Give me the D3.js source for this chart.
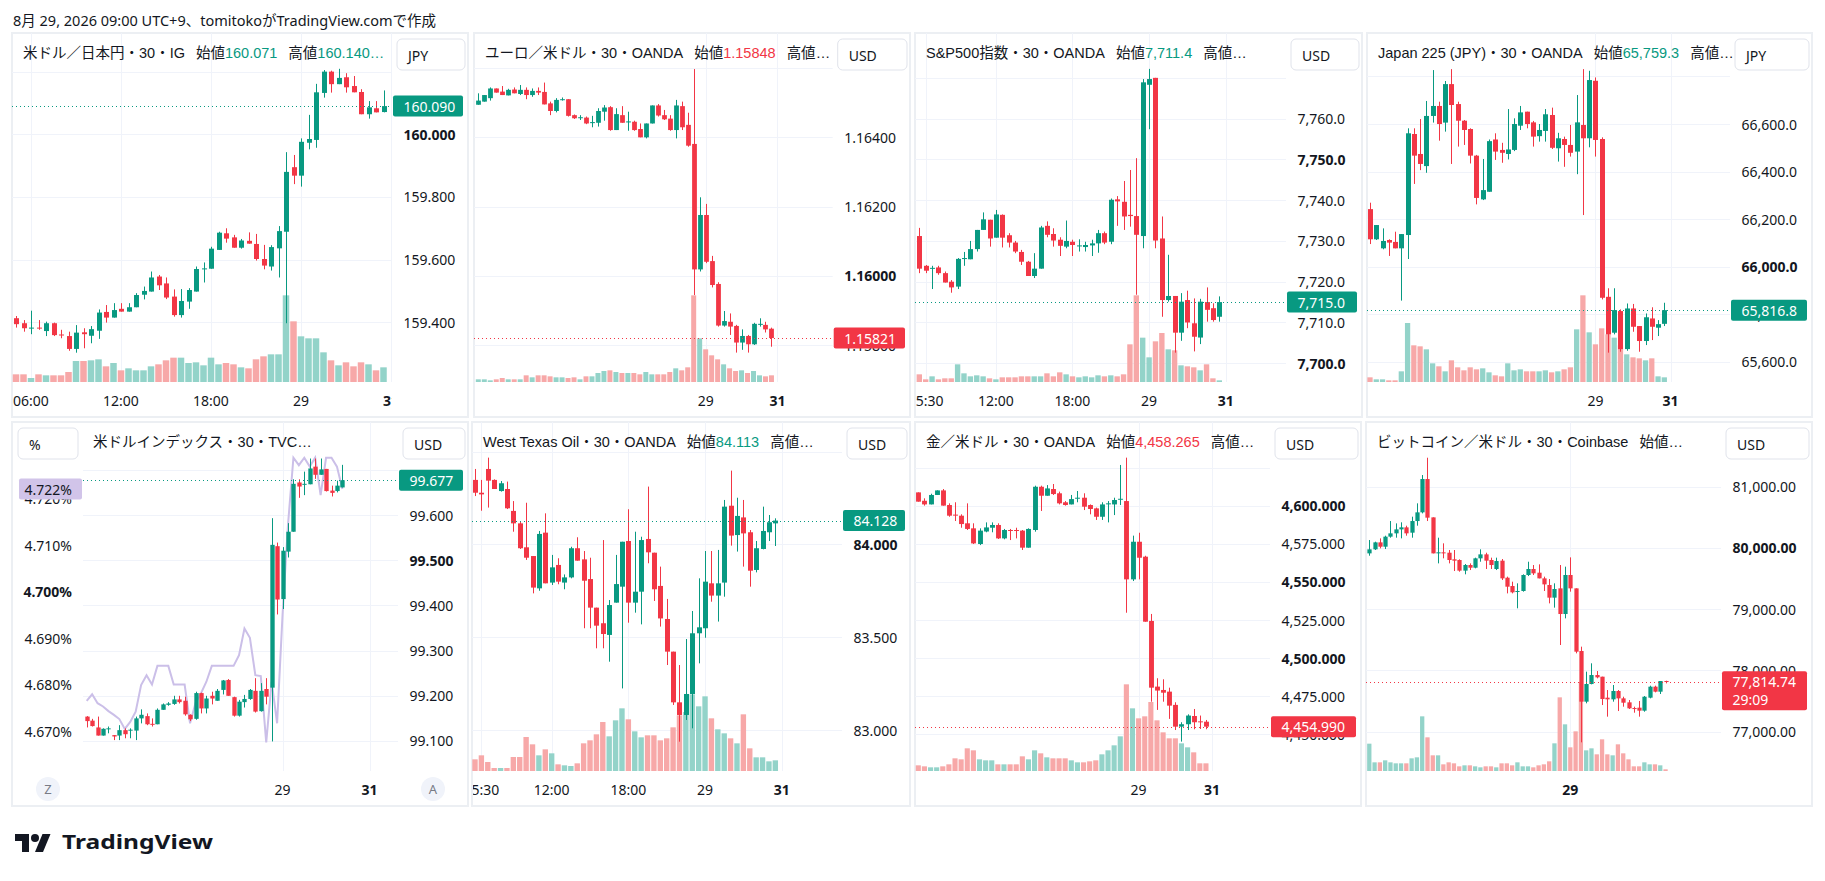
<!DOCTYPE html>
<html>
<head>
<meta charset="utf-8">
<script src="https://cdn.jsdelivr.net/npm/d3@7"></script>
<style>
  body { margin: 0; background: #fff; }
  svg { display: block; font-family: "Noto Sans", "Noto Sans CJK JP", sans-serif; }
  .legend { font-family: "Liberation Sans", "Noto Sans CJK JP", sans-serif; }
</style>
</head>
<body>
<svg id="chart" width="1825" height="881"></svg>
<script>
// -----------------------------
//  DATA  (30-minute bars: open, high, low, close)
// -----------------------------
const usdjpyOHLC = [
  [159.413,159.420,159.383,159.394],[159.397,159.407,159.370,159.381],[159.380,159.437,159.362,159.383],[159.383,159.407,159.376,159.381],
  [159.372,159.402,159.356,159.397],[159.397,159.399,159.356,159.359],[159.361,159.376,159.349,159.359],[159.356,159.370,159.309,159.315],
  [159.315,159.391,159.303,159.367],[159.368,159.381,159.317,159.362],[159.357,159.388,159.333,159.378],[159.373,159.441,159.347,159.431],
  [159.433,159.455,159.399,159.415],[159.415,159.461,159.415,159.439],[159.443,159.461,159.434,159.434],[159.434,159.461,159.434,159.448],
  [159.448,159.493,159.448,159.487],[159.488,159.514,159.473,159.500],[159.498,159.562,159.498,159.543],[159.546,159.551,159.503,159.518],
  [159.524,159.543,159.474,159.479],[159.482,159.505,159.418,159.423],[159.423,159.506,159.415,159.468],[159.466,159.509,159.443,159.503],
  [159.498,159.578,159.498,159.570],[159.569,159.591,159.527,159.572],[159.571,159.641,159.571,159.635],[159.631,159.689,159.631,159.686],
  [159.684,159.700,159.654,159.667],[159.671,159.679,159.638,159.638],[159.638,159.666,159.635,159.661],[159.660,159.687,159.651,159.651],
  [159.650,159.682,159.597,159.602],[159.602,159.647,159.569,159.581],[159.578,159.646,159.565,159.640],[159.636,159.707,159.543,159.691],
  [159.689,159.943,159.397,159.880],[159.895,159.934,159.841,159.868],[159.868,159.987,159.833,159.976],[159.973,160.062,159.952,159.985],
  [159.982,160.161,159.957,160.134],[160.132,160.205,160.117,160.200],[160.200,160.203,160.133,160.160],[160.160,160.209,160.160,160.180],
  [160.182,160.195,160.133,160.150],[160.154,160.186,160.134,160.134],[160.135,160.144,160.064,160.064],[160.064,160.106,160.050,160.086],
  [160.083,160.106,160.070,160.070],[160.071,160.140,160.070,160.090]
];
const usdjpyVol = [23,23,12,23,20,20,20,30,63,63,65,68,47,57,35,41,35,35,47,53,65,73,73,57,59,50,73,53,57,53,44,41,68,77,83,83,260,182,137,131,131,89,65,50,59,47,59,53,35,44];
const usdjpyTimes = [[2,"06:00"],[14,"12:00"],[26,"18:00"],[38,"29"],[50,"31"]];
const usdjpyTicks = [159.4,159.6,159.8,160.0,160.2];

const eurusdOHLC = [
  [1.16494,1.16527,1.16494,1.16506],[1.16503,1.16522,1.16503,1.16522],[1.16513,1.16544,1.16506,1.16541],[1.16541,1.16541,1.16529,1.16529],
  [1.16532,1.16548,1.16522,1.16522],[1.16521,1.16540,1.16521,1.16537],[1.16538,1.16544,1.16527,1.16527],[1.16525,1.16551,1.16522,1.16537],
  [1.16537,1.16544,1.16510,1.16522],[1.16522,1.16541,1.16517,1.16534],[1.16534,1.16544,1.16522,1.16529],[1.16531,1.16558,1.16495,1.16495],
  [1.16498,1.16503,1.16464,1.16476],[1.16476,1.16513,1.16472,1.16508],[1.16508,1.16515,1.16506,1.16510],[1.16510,1.16510,1.16460,1.16462],
  [1.16464,1.16466,1.16453,1.16455],[1.16456,1.16464,1.16450,1.16458],[1.16457,1.16460,1.16438,1.16440],[1.16441,1.16462,1.16429,1.16444],
  [1.16442,1.16484,1.16431,1.16476],[1.16474,1.16493,1.16448,1.16486],[1.16487,1.16490,1.16419,1.16421],[1.16421,1.16484,1.16421,1.16467],
  [1.16464,1.16490,1.16442,1.16442],[1.16443,1.16474,1.16419,1.16446],[1.16445,1.16448,1.16419,1.16421],[1.16424,1.16440,1.16400,1.16400],
  [1.16400,1.16440,1.16397,1.16440],[1.16440,1.16492,1.16440,1.16492],[1.16492,1.16496,1.16460,1.16463],[1.16464,1.16479,1.16450,1.16452],
  [1.16454,1.16464,1.16419,1.16421],[1.16421,1.16508,1.16397,1.16492],[1.16490,1.16503,1.16421,1.16429],[1.16436,1.16471,1.16373,1.16376],
  [1.16381,1.16597,1.15945,1.16019],[1.16019,1.16227,1.16013,1.16176],[1.16176,1.16208,1.16037,1.16041],[1.16043,1.16058,1.15967,1.15974],
  [1.15977,1.15982,1.15854,1.15857],[1.15857,1.15899,1.15854,1.15870],[1.15868,1.15892,1.15830,1.15854],[1.15856,1.15859,1.15779,1.15808],
  [1.15808,1.15846,1.15787,1.15827],[1.15827,1.15830,1.15779,1.15803],[1.15803,1.15865,1.15801,1.15862],[1.15860,1.15878,1.15854,1.15862],
  [1.15859,1.15868,1.15837,1.15846],[1.15848,1.15851,1.15796,1.15821]
];
const eurusdVol = [8,8,5,8,12,8,8,8,20,14,20,20,17,14,14,12,14,8,17,17,27,33,35,30,27,27,27,23,30,23,23,23,30,41,35,44,260,131,98,80,68,53,41,33,35,27,33,20,17,20];
const eurusdTimes = [[38,"29"],[50,"31"]];
const eurusdTicks = [1.158,1.160,1.162,1.164,1.166];

const spxOHLC = [
  [7731.2,7733.2,7722.1,7723.2],[7723.9,7724.1,7722.1,7722.7],[7723.2,7723.9,7718.2,7723.4],[7723.5,7723.9,7721.7,7722.1],
  [7722.1,7722.5,7719.8,7719.8],[7720.0,7720.4,7717.3,7718.6],[7718.8,7725.8,7718.2,7725.6],[7725.6,7727.3,7723.9,7725.8],
  [7725.5,7730.0,7725.5,7728.0],[7728.0,7732.7,7727.4,7732.7],[7732.7,7737.0,7732.7,7735.3],[7735.2,7735.2,7728.6,7730.6],
  [7730.8,7737.6,7730.8,7736.5],[7736.4,7736.5,7728.4,7730.8],[7731.4,7731.9,7728.4,7729.6],[7729.6,7730.0,7727.0,7727.4],
  [7727.3,7727.8,7724.1,7724.9],[7724.9,7725.1,7721.4,7721.4],[7721.4,7727.0,7720.9,7723.2],[7723.2,7733.7,7723.2,7733.3],
  [7733.7,7734.8,7730.9,7731.5],[7731.7,7733.1,7728.6,7730.1],[7730.3,7730.9,7726.3,7728.8],[7728.6,7735.0,7728.2,7730.0],
  [7729.8,7730.3,7726.3,7729.0],[7728.7,7730.4,7727.4,7728.9],[7728.5,7729.8,7727.4,7729.0],[7728.9,7730.3,7726.3,7729.4],
  [7729.4,7732.7,7727.1,7731.9],[7731.9,7732.3,7729.2,7729.6],[7729.8,7740.4,7729.2,7740.1],[7740.2,7741.0,7733.7,7739.7],
  [7739.6,7744.7,7732.7,7736.0],[7736.4,7747.4,7733.5,7736.1],[7736.1,7750.3,7716.8,7731.5],[7731.2,7769.7,7728.2,7768.9],
  [7768.3,7772.2,7757.4,7769.7],[7770.0,7770.0,7728.2,7730.1],[7730.6,7736.0,7711.4,7715.5],[7715.5,7726.6,7715.1,7716.5],
  [7716.5,7716.5,7702.6,7707.5],[7707.5,7717.2,7705.5,7715.1],[7715.5,7717.8,7708.6,7710.0],[7709.8,7715.9,7702.9,7706.5],
  [7706.3,7715.8,7704.7,7715.1],[7715.0,7718.6,7710.2,7713.1],[7713.5,7714.7,7710.2,7710.6],[7711.4,7716.4,7710.2,7715.0]
];
const spxVol = [23,8,17,8,11,11,53,26,17,20,17,11,8,14,14,14,17,17,17,17,26,17,29,23,17,14,17,14,20,17,20,17,23,113,260,133,74,122,147,98,95,50,47,44,35,53,11,5];
const spxTimes = [[1,"05:30"],[12,"12:00"],[24,"18:00"],[36,"29"],[48,"31"]];
const spxTicks = [7700,7710,7720,7730,7740,7750,7760,7770];

const n225OHLC = [
  [66242,66269,66095,66115],[66115,66175,66112,66175],[66077,66161,66073,66108],[66112,66115,66045,66101],
  [66104,66147,66077,66077],[66077,66137,65857,66137],[66133,66582,66032,66561],[66558,66582,66348,66467],
  [66474,66621,66406,66432],[66423,66697,66395,66634],[66634,66827,66606,66676],[66676,66694,66530,66600],
  [66606,66781,66568,66768],[66768,66831,66432,66680],[66684,66694,66505,66614],[66614,66617,66512,66575],
  [66579,66582,66434,66467],[66467,66470,66262,66289],[66283,66453,66280,66322],[66315,66535,66315,66528],
  [66535,66561,66449,66484],[66491,66521,66437,66479],[66474,66663,66451,66493],[66491,66624,66486,66600],
  [66593,66676,66575,66649],[66652,66652,66582,66600],[66607,66613,66505,66547],[66549,66600,66526,66575],
  [66571,66663,66526,66641],[66638,66669,66495,66500],[66498,66563,66442,66540],[66537,66547,66420,66512],
  [66512,66596,66463,66479],[66484,66722,66389,66607],[66596,66831,66217,66540],[66540,66824,66502,66785],
  [66782,66796,66463,66533],[66537,66544,65862,65869],[65873,65909,65638,65715],[65722,65909,65715,65817],
  [65813,65820,65642,65653],[65653,65845,65646,65824],[65824,65843,65726,65747],[65750,65750,65642,65687],
  [65687,65803,65670,65787],[65782,65829,65691,65747],[65743,65775,65708,65758],[65759.3,65848,65750,65816.8]
];
const n225Vol = [14,8,8,5,5,32,177,110,107,98,56,47,32,65,44,35,44,38,41,29,20,17,56,35,38,32,32,32,35,29,32,38,44,158,260,149,113,161,143,133,110,83,74,71,65,71,17,14];
const n225Times = [[36,"29"],[48,"31"]];
const n225Ticks = [65600,65800,66000,66200,66400,66600,66800];

const dxyOHLC = [
  [99.154,99.155,99.130,99.144],[99.145,99.149,99.132,99.133],[99.130,99.154,99.112,99.112],[99.112,99.128,99.112,99.127],
  [99.128,99.132,99.117,99.128],[99.113,99.113,99.102,99.110],[99.112,99.135,99.102,99.124],[99.124,99.128,99.106,99.115],
  [99.123,99.128,99.106,99.125],[99.123,99.154,99.102,99.150],[99.150,99.170,99.139,99.158],[99.155,99.161,99.135,99.137],
  [99.138,99.150,99.132,99.137],[99.137,99.172,99.137,99.169],[99.169,99.183,99.169,99.181],[99.180,99.186,99.178,99.183],
  [99.182,99.200,99.180,99.192],[99.192,99.200,99.183,99.186],[99.189,99.198,99.156,99.159],[99.158,99.159,99.144,99.148],
  [99.149,99.209,99.147,99.206],[99.206,99.207,99.161,99.172],[99.172,99.200,99.161,99.194],[99.200,99.209,99.181,99.194],
  [99.189,99.215,99.189,99.211],[99.213,99.235,99.203,99.234],[99.235,99.237,99.200,99.200],[99.197,99.198,99.154,99.156],
  [99.156,99.191,99.154,99.187],[99.186,99.202,99.174,99.193],[99.193,99.215,99.191,99.213],[99.211,99.239,99.163,99.165],
  [99.166,99.228,99.165,99.211],[99.215,99.239,99.181,99.198],[99.218,99.593,99.099,99.534],[99.531,99.539,99.380,99.413],
  [99.414,99.529,99.392,99.521],[99.519,99.582,99.506,99.563],[99.563,99.679,99.563,99.669],[99.672,99.679,99.638,99.663],
  [99.669,99.696,99.644,99.669],[99.668,99.725,99.668,99.703],[99.707,99.725,99.680,99.689],[99.689,99.725,99.689,99.701],
  [99.702,99.702,99.652,99.653],[99.654,99.665,99.641,99.649],[99.653,99.676,99.650,99.665],[99.661,99.711,99.661,99.677]
];
const us10yLine = [4.6766,4.6780,4.6761,4.6754,4.6744,4.6736,4.6727,4.6706,4.6721,4.6743,4.6800,4.6821,4.6801,4.6841,4.6841,4.6841,
  4.6801,4.6801,4.6801,4.6718,4.6761,4.6782,4.6807,4.6841,4.6841,4.6841,4.6841,4.6841,4.6864,4.6921,4.6901,4.6821,
  4.6819,4.6677,4.6807,4.6718,4.6950,4.7143,4.7287,4.7271,4.7287,4.7268,4.7287,4.7207,4.7287,4.7287,4.7268,4.7220];
const dxyTimes = [[36,"29"],[52,"31"]];
const dxyTicks = [99.1,99.2,99.3,99.4,99.5,99.6,99.7];
const us10yTicks = [4.67,4.68,4.69,4.70,4.71,4.72,4.73];

const wtiOHLC = [
  [84.347,84.406,84.260,84.278],[84.278,84.347,84.181,84.269],[84.406,84.467,84.198,84.343],[84.347,84.350,84.298,84.298],
  [84.287,84.341,84.284,84.329],[84.298,84.338,84.190,84.194],[84.180,84.233,84.068,84.113],[84.113,84.122,83.975,83.979],
  [83.984,84.224,83.916,83.928],[83.937,83.937,83.736,83.767],[83.763,84.072,83.750,84.056],[84.063,84.167,83.790,83.790],
  [83.794,83.943,83.781,83.876],[83.889,83.925,83.785,83.799],[83.794,83.838,83.758,83.822],[83.822,83.987,83.817,83.979],
  [83.979,84.038,83.912,83.912],[83.919,83.964,83.548,83.804],[83.813,83.928,83.548,83.659],[83.659,83.659,83.440,83.562],
  [83.575,84.023,83.440,83.517],[83.512,83.700,83.368,83.673],[83.686,83.943,83.686,83.786],[83.772,84.014,83.224,84.014],
  [84.018,84.189,83.578,83.686],[83.686,84.068,83.632,83.745],[83.745,84.041,83.569,84.023],[84.029,84.311,83.898,83.957],
  [83.955,83.955,83.695,83.758],[83.776,83.880,83.557,83.601],[83.598,83.706,83.350,83.422],[83.422,83.422,83.135,83.149],
  [83.149,83.350,82.937,83.081],[83.081,83.490,83.054,83.194],[83.194,83.641,83.009,83.521],[83.521,83.817,83.359,83.553],
  [83.548,83.964,83.497,83.799],[83.790,83.964,83.691,83.724],[83.724,83.970,83.584,83.790],[83.794,84.239,83.718,84.203],
  [84.208,84.397,83.993,84.047],[84.050,84.251,83.961,84.153],[84.145,84.239,83.880,84.059],[84.065,84.077,83.772,83.858],
  [83.862,84.018,83.849,83.979],[83.975,84.203,83.973,84.072],[84.065,84.158,84.018,84.119],[84.113,84.140,83.991,84.128]
];
const wtiVol = [35,47,27,9,9,9,42,42,102,80,47,65,53,20,17,15,23,83,92,110,147,104,152,188,155,119,101,107,107,92,98,131,167,177,230,194,224,158,125,113,98,83,170,68,41,41,29,32];
const wtiTimes = [[1,"05:30"],[12,"12:00"],[24,"18:00"],[36,"29"],[48,"31"]];
const wtiTicks = [82.5,83.0,83.5,84.0,84.5];

const goldOHLC = [
  [4608.8,4608.8,4602.7,4602.7],[4603.3,4604.9,4600.1,4600.9],[4600.9,4607.9,4600.9,4607.1],[4607.1,4610.1,4607.1,4610.1],
  [4610.1,4611.0,4600.1,4600.1],[4600.5,4601.6,4592.8,4593.5],[4594.2,4602.3,4590.0,4593.9],[4593.5,4594.4,4585.6,4588.0],
  [4588.5,4601.6,4584.1,4584.8],[4585.2,4588.5,4574.9,4575.3],[4574.9,4585.2,4574.2,4583.7],[4583.1,4589.1,4582.6,4585.8],
  [4585.6,4589.1,4582.6,4587.4],[4587.4,4588.5,4578.2,4578.6],[4578.6,4584.8,4578.0,4584.1],[4584.1,4584.8,4577.5,4583.9],
  [4584.1,4585.6,4578.6,4583.9],[4583.7,4584.1,4571.0,4572.5],[4572.5,4585.2,4572.5,4584.8],[4584.1,4613.2,4583.0,4612.5],
  [4612.5,4613.2,4596.6,4606.6],[4606.6,4613.6,4606.6,4611.4],[4611.0,4614.3,4607.1,4607.7],[4608.2,4609.3,4600.9,4601.6],
  [4602.3,4603.1,4600.1,4600.5],[4600.9,4607.1,4600.9,4604.4],[4605.1,4609.7,4602.3,4605.3],[4605.3,4608.2,4597.2,4599.4],
  [4600.5,4600.9,4594.4,4597.9],[4598.3,4598.8,4590.7,4592.8],[4592.8,4602.3,4590.7,4600.9],[4601.4,4603.1,4589.1,4601.6],
  [4600.9,4605.3,4593.9,4603.8],[4604.4,4626.8,4600.5,4604.6],[4603.1,4631.6,4529.8,4551.7],[4551.7,4580.4,4550.6,4576.4],
  [4576.4,4582.3,4551.7,4565.9],[4566.6,4567.2,4523.9,4523.9],[4524.4,4529.0,4471.4,4480.6],[4481.3,4486.8,4466.0,4478.7],
  [4479.1,4486.1,4471.4,4477.3],[4478.0,4480.6,4460.1,4468.8],[4469.3,4471.0,4452.8,4455.0],[4455.0,4457.9,4445.2,4456.6],
  [4456.6,4463.1,4452.8,4462.3],[4462.0,4466.6,4453.3,4457.9],[4458.5,4462.3,4453.5,4458.3],[4458.265,4459.4,4453.3,4454.99]
];
const goldVol = [17,14,11,11,14,20,38,35,68,62,35,32,32,20,20,20,20,44,35,62,53,41,38,38,38,32,26,26,29,32,50,62,77,104,260,188,158,164,207,152,116,98,98,83,71,56,23,23];
const goldTimes = [[36,"29"],[48,"31"]];
const goldTicks = [4450,4475,4500,4525,4550,4575,4600,4625];

const btcOHLC = [
  [79911,80129,79873,79977],[79977,80102,79966,80091],[80091,80156,79993,80020],[80020,80200,79982,80184],
  [80184,80439,80167,80238],[80238,80401,80167,80303],[80303,80418,80156,80336],[80336,80363,80200,80238],
  [80249,80510,80167,80439],[80439,80728,80363,80581],[80581,81190,80564,81125],[81125,81473,80439,80494],
  [80499,80499,79911,79911],[79922,80167,79748,79928],[79928,80075,79830,79911],[79922,79966,79748,79803],
  [79814,79966,79623,79792],[79803,79814,79612,79629],[79629,79737,79569,79721],[79721,79748,79639,79677],
  [79677,79841,79667,79830],[79830,79977,79775,79895],[79895,79922,79656,79792],[79803,79841,79656,79721],
  [79656,79841,79639,79786],[79792,79819,79476,79503],[79514,79531,79258,79367],[79378,79449,79258,79275],
  [79291,79422,79014,79297],[79297,79569,79286,79558],[79558,79775,79541,79656],[79656,79721,79558,79585],
  [79596,79732,79503,79503],[79503,79531,79297,79405],[79395,79492,79095,79188],[79188,79422,79025,79329],
  [79340,79721,78415,78921],[78921,79694,78850,79558],[79558,79846,79286,79340],[79340,79340,78279,78306],
  [78317,78388,76826,77490],[77490,77980,77463,77778],[77778,78116,77773,77925],[77925,77990,77871,77887],
  [77898,77898,77435,77533],[77555,77680,77245,77528],[77528,77762,77490,77664],[77664,77680,77337,77544],
  [77544,77571,77408,77473],[77479,77517,77370,77381],[77386,77408,77310,77381],[77392,77501,77245,77343],
  [77343,77582,77326,77571],[77555,77751,77544,77735],[77735,77751,77642,77653],[77653,77827,77615,77827],
  [77827,77832,77789,77814.74]
];
const btcVol = [82,26,26,32,26,23,23,23,38,41,164,101,47,47,20,26,23,14,17,17,14,11,14,14,11,23,23,17,26,14,14,11,17,20,29,83,221,140,71,119,267,62,68,50,95,50,47,80,53,35,14,14,26,20,20,17,5];
const btcTimes = [[38,"29"]];
const btcTicks = [77000,78000,79000,80000,81000,82000];

// -----------------------------
//  LAYOUT / STYLE
// -----------------------------
const UP = "#089981", DOWN = "#f23645";
const UP_VOL = "#93d3c9", DOWN_VOL = "#f7a8a8";
const GRID = "#f0f3fa", BORDER = "#eceff3", TEXT = "#131722";
const PLOT_H = 349;

const panels = [
  { x: 12, y: 33, w: 456, plotR: 392, x0: 16, step: 7.5,
    ohlc: usdjpyOHLC, vol: usdjpyVol, times: usdjpyTimes, ticks: usdjpyTicks,
    domain: [159.2094, 160.3233], fmt: ".3f", bold: [160.0], boldTime: "31",
    name: "米ドル／日本円・30・IG", legend: "full", unit: "JPY" },
  { x: 474, y: 33, w: 436, plotR: 832.7, x0: 478.3, step: 5.983,
    ohlc: eurusdOHLC, vol: eurusdVol, times: eurusdTimes, ticks: eurusdTicks,
    domain: [1.156942, 1.16701], fmt: ".5f", bold: [1.16], boldTime: "31",
    name: "ユーロ／米ドル・30・OANDA", legend: "open", unit: "USD" },
  { x: 915, y: 33, w: 447, plotR: 1286, x0: 919.3, step: 6.383,
    ohlc: spxOHLC, vol: spxVol, times: spxTimes, ticks: spxTicks,
    domain: [7695.4, 7781.0], fmt: ",.1f", bold: [7700, 7750], boldTime: "31",
    name: "S&P500指数・30・OANDA", legend: "open", unit: "USD" },
  { x: 1367, y: 33, w: 445, plotR: 1730, x0: 1370, step: 6.262,
    ohlc: n225OHLC, vol: n225Vol, times: n225Times, ticks: n225Ticks,
    domain: [65514.6, 66983], fmt: ",.1f", bold: [66000], boldTime: "31",
    name: "Japan 225 (JPY)・30・OANDA", legend: "open", unit: "JPY" },
  { x: 12, y: 422, w: 456, plotL: 83, plotR: 398, x0: 86.7, step: 5.44,
    ohlc: dxyOHLC, vol: null, times: dxyTimes, ticks: dxyTicks,
    domain: [99.0336, 99.8058], fmt: ".3f", bold: [99.5], boldTime: "31",
    name: "米ドルインデックス・30・TVC…", legend: "none", unit: "USD",
    line: us10yLine, lineTicks: us10yTicks, lineDomain: [4.66157, 4.73636], lineBold: [4.70] },
  { x: 472, y: 422, w: 438, plotR: 842, x0: 475, step: 6.39,
    ohlc: wtiOHLC, vol: wtiVol, times: wtiTimes, ticks: wtiTicks,
    domain: [82.7792, 84.6589], fmt: ".3f", bold: [84.0], boldTime: "31",
    name: "West Texas Oil・30・OANDA", legend: "open", unit: "USD" },
  { x: 915, y: 422, w: 446, plotR: 1270, x0: 918.3, step: 6.12,
    ohlc: goldOHLC, vol: goldVol, times: goldTimes, ticks: goldTicks,
    domain: [4425.9, 4655.0], fmt: ",.3f", bold: [4500, 4550, 4600], boldTime: "31",
    name: "金／米ドル・30・OANDA", legend: "open", unit: "USD" },
  { x: 1366, y: 422, w: 446, plotR: 1721, x0: 1369.3, step: 5.29,
    ohlc: btcOHLC, vol: btcVol, times: btcTimes, ticks: btcTicks,
    domain: [76358, 82056], fmt: ",.2f", bold: [80000], boldTime: "29",
    name: "ビットコイン／米ドル・30・Coinbase", legend: "trunc", unit: "USD", countdown: "29:09" }
];

const svg = d3.select("#chart");
const defs = svg.append("defs");

svg.append("text")
  .attr("x", 13).attr("y", 20).attr("dominant-baseline", "central")
  .attr("font-size", 14.5).attr("fill", TEXT)
  .text("8月 29, 2026 09:00 UTC+9、tomitokoがTradingView.comで作成");

panels.forEach(drawPanel);

// -----------------------------
//  ONE PANEL
// -----------------------------
function drawPanel(p, k) {
  const top = p.y, bottom = p.y + PLOT_H, right = p.x + p.w;
  const plotL = p.plotL || p.x;
  const g = svg.append("g");

  defs.append("clipPath").attr("id", "plot" + k).append("rect")
    .attr("x", plotL).attr("y", top).attr("width", p.plotR - plotL).attr("height", PLOT_H);
  defs.append("clipPath").attr("id", "time" + k).append("rect")
    .attr("x", p.x + 1).attr("y", bottom).attr("width", p.plotR - p.x - 1).attr("height", 34);

  const x = d3.scaleLinear().domain([0, 1]).range([p.x0, p.x0 + p.step]);
  const y = d3.scaleLinear().domain(p.domain).range([bottom, top]);
  const v = d3.scaleLinear().domain([0, 261]).range([0, 87]);
  const fmt = d3.format(p.fmt);

  // border
  g.append("rect").attr("x", p.x).attr("y", p.y).attr("width", p.w).attr("height", 384)
    .attr("fill", "#fff").attr("stroke", BORDER).attr("stroke-width", 2);

  // grid
  const inY = (t) => y(t) > top + 4 && y(t) < bottom;
  g.append("g").selectAll("line")
    .data(p.ticks.filter(inY))
    .join("line")
    .attr("x1", plotL).attr("x2", p.plotR)
    .attr("y1", (d) => Math.round(y(d)) + 0.5).attr("y2", (d) => Math.round(y(d)) + 0.5)
    .attr("stroke", GRID);
  g.append("g").selectAll("line")
    .data(p.times.filter((d) => x(d[0]) > plotL && x(d[0]) < p.plotR))
    .join("line")
    .attr("x1", (d) => Math.round(x(d[0])) + 0.5).attr("x2", (d) => Math.round(x(d[0])) + 0.5)
    .attr("y1", top).attr("y2", bottom)
    .attr("stroke", GRID);

  const plot = g.append("g").attr("clip-path", `url(#plot${k})`);
  const isUp = (d) => d[3] >= d[0];

  // volume
  if (p.vol) {
    const vw = p.step - 1;
    plot.append("g").selectAll("rect")
      .data(p.vol)
      .join("rect")
      .attr("x", (d, i) => x(i) - vw / 2)
      .attr("y", (d) => bottom - v(d))
      .attr("width", vw)
      .attr("height", (d) => v(d))
      .attr("fill", (d, i) => (isUp(p.ohlc[i]) ? UP_VOL : DOWN_VOL));
  }

  // compare line (left % scale)
  let yl;
  if (p.line) {
    yl = d3.scaleLinear().domain(p.lineDomain).range([bottom, top]);
    plot.append("path")
      .datum(p.line)
      .attr("fill", "none")
      .attr("stroke", "#cbbfe8")
      .attr("stroke-width", 2)
      .attr("d", d3.line().x((d, i) => x(i)).y((d) => yl(d)));
  }

  // candles
  const bw = Math.min(5, p.step * 0.8);
  const candle = plot.append("g").selectAll("g")
    .data(p.ohlc)
    .join("g")
    .attr("fill", (d) => (isUp(d) ? UP : DOWN))
    .attr("stroke", (d) => (isUp(d) ? UP : DOWN));
  candle.append("line")
    .attr("x1", (d, i) => Math.round(x(i)) + 0.5).attr("x2", (d, i) => Math.round(x(i)) + 0.5)
    .attr("y1", (d) => y(d[1])).attr("y2", (d) => y(d[2]))
    .attr("stroke-width", 1);
  candle.append("rect")
    .attr("stroke", "none")
    .attr("x", (d, i) => Math.round(x(i)) + 0.5 - bw / 2)
    .attr("y", (d) => y(Math.max(d[0], d[3])))
    .attr("width", bw)
    .attr("height", (d) => Math.max(1, Math.abs(y(d[0]) - y(d[3]))));

  // last price line
  const last = p.ohlc[p.ohlc.length - 1];
  const lastCol = isUp(last) ? UP : DOWN;
  const ly = y(last[3]);
  g.append("line")
    .attr("x1", plotL).attr("x2", p.plotR)
    .attr("y1", Math.round(ly) + 0.5).attr("y2", Math.round(ly) + 0.5)
    .attr("stroke", lastCol).attr("stroke-dasharray", "1 3");

  // right price axis
  const lx = p.plotR + 11.5;
  g.append("g").selectAll("text")
    .data(p.ticks.filter((t) => y(t) > top + 50 && y(t) < bottom - 4))
    .join("text")
    .attr("x", lx).attr("y", (d) => y(d))
    .attr("dominant-baseline", "central")
    .attr("font-size", 14)
    .attr("font-weight", (d) => (p.bold.some((b) => Math.abs(b - d) < 1e-9) ? 700 : 400))
    .attr("fill", TEXT)
    .text(fmt);

  // left % axis
  if (p.line) {
    const pct = (d) => d3.format(".3f")(d) + "%";
    g.append("g").selectAll("text")
      .data(p.lineTicks.filter((t) => yl(t) > top + 50 && yl(t) < bottom - 4))
      .join("text")
      .attr("x", plotL - 11).attr("y", (d) => yl(d))
      .attr("text-anchor", "end").attr("dominant-baseline", "central")
      .attr("font-size", 14)
      .attr("font-weight", (d) => (p.lineBold.some((b) => Math.abs(b - d) < 1e-9) ? 700 : 400))
      .attr("fill", TEXT)
      .text(pct);
    const lv = p.line[p.line.length - 1];
    g.append("rect").attr("x", p.x + 7).attr("y", yl(lv) - 10.5)
      .attr("width", plotL - p.x - 8).attr("height", 21).attr("rx", 2).attr("fill", "#d1c4e9");
    g.append("text").attr("x", plotL - 11).attr("y", yl(lv))
      .attr("text-anchor", "end").attr("dominant-baseline", "central")
      .attr("font-size", 14).attr("fill", TEXT).text(pct(lv));
  }

  // last price label
  const boxW = right - 5 - (p.plotR + 1);
  g.append("rect")
    .attr("x", p.plotR + 1).attr("y", ly - 10.5)
    .attr("width", boxW).attr("height", p.countdown ? 39 : 21)
    .attr("rx", 2).attr("fill", lastCol);
  g.append("text").attr("x", lx).attr("y", ly)
    .attr("dominant-baseline", "central").attr("font-size", 14).attr("fill", "#fff")
    .text(fmt(last[3]));
  if (p.countdown) {
    g.append("text").attr("x", lx).attr("y", ly + 18)
      .attr("dominant-baseline", "central").attr("font-size", 14).attr("fill", "#fff")
      .text(p.countdown);
  }

  // time axis
  g.append("g").attr("clip-path", `url(#time${k})`)
    .selectAll("text")
    .data(p.times)
    .join("text")
    .attr("x", (d) => x(d[0])).attr("y", bottom + 18)
    .attr("text-anchor", "middle").attr("dominant-baseline", "central")
    .attr("font-size", 14)
    .attr("font-weight", (d) => (d[1] === p.boldTime ? 700 : 400))
    .attr("fill", TEXT)
    .text((d) => d[1]);

  // header: unit boxes
  const box = (bx, w, label) => {
    g.append("rect").attr("x", bx).attr("y", top + 6).attr("width", w).attr("height", 31)
      .attr("rx", 5).attr("fill", "#fff").attr("stroke", "#e0e3eb");
    g.append("text").attr("x", bx + 11).attr("y", top + 22)
      .attr("dominant-baseline", "central").attr("font-size", 14).attr("fill", TEXT).text(label);
  };
  box(p.plotR + 5, right - 3 - (p.plotR + 5), p.unit);
  if (p.line) box(p.x + 6, plotL - p.x - 11, "%");

  // header: legend
  const valCol = isUp(last) ? UP : DOWN;
  const title = g.append("text")
    .attr("class", "legend")
    .attr("x", plotL + (p.line ? 10 : 11)).attr("y", top + 20)
    .attr("dominant-baseline", "central").attr("font-size", 14.5).attr("fill", TEXT);
  title.append("tspan").text(p.name);
  if (p.legend === "full" || p.legend === "open") {
    title.append("tspan").attr("dx", 11).text("始値");
    title.append("tspan").attr("fill", valCol).text(fmt(last[0]));
    title.append("tspan").attr("dx", 11).text("高値");
    if (p.legend === "full") title.append("tspan").attr("fill", valCol).text(fmt(last[1]) + "…");
    else title.append("tspan").text("…");
  } else if (p.legend === "trunc") {
    title.append("tspan").attr("dx", 11).text("始値…");
  }

  // scale buttons
  if (p.line) {
    [[p.x + 36, "Z"], [p.x + 421, "A"]].forEach(([cx, t]) => {
      g.append("circle").attr("cx", cx).attr("cy", bottom + 18).attr("r", 12).attr("fill", "#f0f3fa");
      g.append("text").attr("x", cx).attr("y", bottom + 18)
        .attr("text-anchor", "middle").attr("dominant-baseline", "central")
        .attr("font-size", 13).attr("fill", "#787b86").text(t);
    });
  }
}

// -----------------------------
//  LOGO
// -----------------------------
const logo = svg.append("g").attr("transform", "translate(15,830)").attr("fill", TEXT);
logo.append("path").attr("d", "M14 22H7V11H0V4h14v18z");
logo.append("circle").attr("cx", 20).attr("cy", 8).attr("r", 4);
logo.append("path").attr("d", "M28 22h-8l7.5-18h8L28 22z");
svg.append("text")
  .attr("x", 62).attr("y", 849)
  .attr("font-size", 20).attr("font-weight", 700)
  .attr("textLength", 151).attr("lengthAdjust", "spacingAndGlyphs")
  .attr("fill", TEXT)
  .text("TradingView");
</script>
</body>
</html>
